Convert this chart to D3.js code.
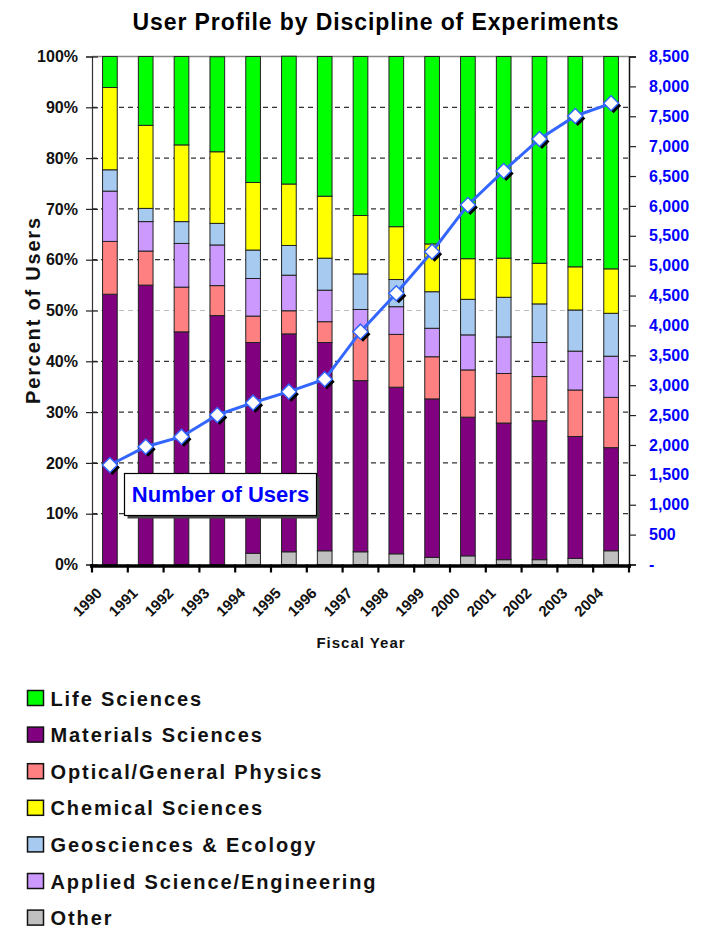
<!DOCTYPE html>
<html>
<head>
<meta charset="utf-8">
<script src="https://cdn.jsdelivr.net/npm/d3@7"></script>
<style>
  html, body { margin: 0; padding: 0; background: #fff; }
  svg { display: block; }
  text { font-family: "Liberation Sans", Arial, Helvetica, sans-serif; font-weight: bold; }
</style>
</head>
<body>
<svg id="chart" width="704" height="928"></svg>
<script>
const years = ["1990","1991","1992","1993","1994","1995","1996","1997","1998","1999","2000","2001","2002","2003","2004"];
const other     = [0, 0, 0, 0, 2.2, 2.5, 2.7, 2.5, 2.1, 1.4, 1.7, 0.95, 0.95, 1.2, 2.7];
const materials = [53.2, 55.0, 45.8, 49.0, 41.5, 42.9, 41.0, 33.7, 32.8, 31.2, 27.3, 26.9, 27.35, 24.0, 20.3];
const optical   = [10.4, 6.7, 8.8, 5.9, 5.2, 4.55, 4.1, 9.8, 10.4, 8.3, 9.3, 9.75, 8.7, 9.15, 9.9];
const applied   = [9.9, 5.8, 8.6, 8.0, 7.4, 7.0, 6.2, 4.2, 5.45, 5.6, 6.9, 7.2, 6.7, 7.65, 8.1];
const geo       = [4.2, 2.6, 4.3, 4.25, 5.6, 5.85, 6.3, 7.0, 5.35, 7.2, 7.0, 7.8, 7.6, 8.1, 8.45];
const chemical  = [16.2, 16.35, 15.1, 14.1, 13.3, 12.1, 12.2, 11.5, 10.4, 9.4, 8.0, 7.7, 8.0, 8.5, 8.75];
const life      = [6.1, 13.55, 17.4, 18.7, 24.8, 25.15, 27.5, 31.3, 33.5, 36.9, 39.8, 39.7, 40.7, 41.4, 41.8];
const users     = [1665, 1971, 2139, 2502, 2708, 2892, 3099, 3896, 4538, 5234, 6016, 6585, 7120, 7505, 7717];

const pctTicks  = [0,10,20,30,40,50,60,70,80,90,100];
const userTicks = [0,500,1000,1500,2000,2500,3000,3500,4000,4500,5000,5500,6000,6500,7000,7500,8000,8500];

// stacking order bottom -> top
const seriesDefs = [
  {key: "other",     name: "Other",                       color: "#C0C0C0", values: other},
  {key: "materials", name: "Materials Sciences",          color: "#800080", values: materials},
  {key: "optical",   name: "Optical/General Physics",     color: "#FF8080", values: optical},
  {key: "applied",   name: "Applied Science/Engineering", color: "#CC99FF", values: applied},
  {key: "geo",       name: "Geosciences & Ecology",       color: "#A6CAF0", values: geo},
  {key: "chemical",  name: "Chemical Sciences",           color: "#FFFF00", values: chemical},
  {key: "life",      name: "Life Sciences",               color: "#00FF00", values: life}
];
const legendOrder = ["life","materials","optical","chemical","geo","applied","other"];

const rows = years.map((y, i) => {
  const r = {year: y};
  seriesDefs.forEach(s => r[s.key] = s.values[i]);
  return r;
});

const svg = d3.select("#chart");
const L = 92, R = 629, T = 56.5, B = 564.5;

const x = d3.scaleBand().domain(years).range([L, R]).paddingInner(0.59).paddingOuter(0.295);
const y = d3.scaleLinear().domain([0, 100]).range([B, T]);
const y2 = d3.scaleLinear().domain([0, 8500]).range([B, T]);

// Title
svg.append("text")
  .attr("x", 376).attr("y", 30)
  .attr("text-anchor", "middle")
  .style("font-size", "23px")
  .style("letter-spacing", "0.9px")
  .attr("fill", "#000")
  .text("User Profile by Discipline of Experiments");

// gridlines
svg.append("g").selectAll("line")
  .data(pctTicks.filter(d => d > 0 && d < 100))
  .join("line")
  .attr("x1", L).attr("x2", R)
  .attr("y1", d => y(d)).attr("y2", d => y(d))
  .attr("stroke", d => d === 50 ? "#BBBBBB" : "#333")
  .attr("stroke-width", 1.2)
  .attr("stroke-dasharray", "5,4");

// top border
svg.append("line").attr("x1", L).attr("x2", R).attr("y1", y(100)).attr("y2", y(100))
  .attr("stroke", "#888").attr("stroke-width", 1.5);

// bars
const stack = d3.stack().keys(seriesDefs.map(s => s.key));
const stacked = stack(rows);
const barG = svg.append("g");
stacked.forEach((layer, li) => {
  barG.append("g")
    .attr("fill", seriesDefs[li].color)
    .selectAll("rect")
    .data(layer.filter(d => d[1] - d[0] > 0))
    .join("rect")
    .attr("x", d => x(d.data.year))
    .attr("width", x.bandwidth())
    .attr("y", d => y(d[1]))
    .attr("height", d => y(d[0]) - y(d[1]))
    .attr("stroke", "#222")
    .attr("stroke-width", 1);
});

// left axis
const leftAxis = d3.axisLeft(y).tickValues(pctTicks).tickFormat(d => d + "%").tickSize(6).tickPadding(8);
const gl = svg.append("g").attr("transform", `translate(${L},0)`).call(leftAxis);
gl.select(".domain").attr("stroke", "#333").attr("stroke-width", 1.2);
gl.selectAll(".tick line").attr("x2", 6).attr("x1", -6).attr("stroke", "#222").attr("stroke-width", 1.2);
gl.selectAll(".tick text").style("font-size", "16px").attr("fill", "#111").attr("x", -14);

// right axis
const rightAxis = d3.axisRight(y2).tickValues(userTicks).tickFormat(d => d === 0 ? "-" : d3.format(",")(d)).tickSize(7).tickPadding(13);
const gr = svg.append("g").attr("transform", `translate(${R},0)`).call(rightAxis);
gr.select(".domain").attr("stroke", "#111").attr("stroke-width", 1.5);
gr.selectAll(".tick line").attr("stroke", "#222").attr("stroke-width", 1.2);
gr.selectAll(".tick text").style("font-size", "16px").attr("fill", "#0000FF").attr("x", 20);

// bottom axis
const xb = d3.scaleLinear().domain([0, years.length]).range([L, R]);
svg.append("line").attr("x1", L - 2).attr("x2", R + 2).attr("y1", B + 1.5).attr("y2", B + 1.5)
  .attr("stroke", "#000").attr("stroke-width", 3.5);
svg.append("g").selectAll("line")
  .data(d3.range(years.length + 1))
  .join("line")
  .attr("x1", d => xb(d)).attr("x2", d => xb(d))
  .attr("y1", B).attr("y2", B + 8)
  .attr("stroke", "#000").attr("stroke-width", 2.2);

// x labels
svg.append("g").selectAll("text")
  .data(years)
  .join("text")
  .attr("transform", d => `translate(${x(d) + x.bandwidth() / 2 - 7},594) rotate(-45)`)
  .attr("text-anchor", "end")
  .style("font-size", "15px")
  .attr("fill", "#111")
  .text(d => d);

// axis titles
svg.append("text")
  .attr("x", 361).attr("y", 648)
  .attr("text-anchor", "middle")
  .style("font-size", "15px")
  .style("letter-spacing", "1px")
  .attr("fill", "#111")
  .text("Fiscal Year");

svg.append("text")
  .attr("transform", "translate(40,310) rotate(-90)")
  .attr("text-anchor", "middle")
  .style("font-size", "20px")
  .style("letter-spacing", "1.8px")
  .attr("fill", "#111")
  .text("Percent of Users");

// users line
const cx = (d, i) => x(years[i]) + x.bandwidth() / 2;
const line = d3.line().x((d, i) => cx(d, i)).y(d => y2(d));
svg.append("path").datum(users)
  .attr("d", line)
  .attr("fill", "none")
  .attr("stroke", "#3366FF")
  .attr("stroke-width", 3);

const dia = (s) => `M0,${-s}L${s},0L0,${s}L${-s},0Z`;
svg.append("g").selectAll("path")
  .data(users)
  .join("path")
  .attr("d", dia(7.5))
  .attr("transform", (d, i) => `translate(${cx(d, i) + 2.5},${y2(d) + 2.5})`)
  .attr("fill", "#000");
svg.append("g").selectAll("path")
  .data(users)
  .join("path")
  .attr("d", dia(7.5))
  .attr("transform", (d, i) => `translate(${cx(d, i)},${y2(d)})`)
  .attr("fill", "#fff")
  .attr("stroke", "#3366FF")
  .attr("stroke-width", 1.5);

// "Number of Users" label box
svg.append("rect").attr("x", 127.5).attr("y", 476.5).attr("width", 192).attr("height", 42).attr("fill", "#444");
svg.append("rect").attr("x", 124.5).attr("y", 473.5).attr("width", 192).attr("height", 42)
  .attr("fill", "#fff").attr("stroke", "#000").attr("stroke-width", 1.2);
svg.append("text")
  .attr("x", 220.5).attr("y", 502)
  .attr("text-anchor", "middle")
  .style("font-size", "22px")
  .attr("fill", "#0000FF")
  .text("Number of Users");

// legend
const lg = svg.append("g");
const legendItems = legendOrder.map(k => seriesDefs.find(s => s.key === k));
const lgRow = lg.selectAll("g").data(legendItems).join("g")
  .attr("transform", (d, i) => `translate(27.5,${690.5 + i * 36.6})`);
lgRow.append("rect").attr("width", 16).attr("height", 15)
  .attr("fill", d => d.color).attr("stroke", "#111").attr("stroke-width", 1.5);
lgRow.append("text")
  .attr("x", 23).attr("y", 15)
  .style("font-size", "20px")
  .style("letter-spacing", "1.9px")
  .attr("fill", "#111")
  .text(d => d.name);
</script>
</body>
</html>
